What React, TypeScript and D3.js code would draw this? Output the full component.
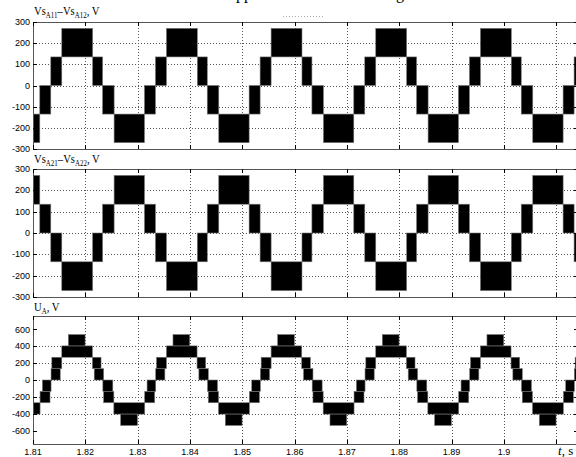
import { useEffect, useRef } from "react";
import * as d3 from "d3";

const W = 576;
const H = 457;

// time axis, s
const timeTicks = [1.81, 1.82, 1.83, 1.84, 1.85, 1.86, 1.87, 1.88, 1.89, 1.9, 1.91];
const timeLabels = ["1.81", "1.82", "1.83", "1.84", "1.85", "1.86", "1.87", "1.88", "1.89", "1.9"];

// start of each positive plateau, s
const cycleStarts = [1.7955, 1.8155, 1.8355, 1.8555, 1.8755, 1.8955, 1.9155];

// black switching bands within one cycle: [from ms, to ms, low V, high V]
const cell1Blocks = [
  [-4.2, -2.1, -135, 0],
  [-2.1, 0, 0, 135],
  [0, 5.9, 135, 270],
  [5.9, 7.8, 0, 135],
  [7.8, 10, -135, 0],
  [10, 15.8, -270, -135],
];

const cell2Blocks = [
  [-4.2, -2.1, 0, 135],
  [-2.1, 0, -135, 0],
  [0, 5.9, -270, -135],
  [5.9, 7.8, -135, 0],
  [7.8, 10, 0, 135],
  [10, 15.8, 135, 270],
];

const uaBlocks = [
  [-4.15, -2.25, -270, -135],
  [-3.7, -2.05, -135, 0],
  [-2.05, -0.3, 0, 135],
  [-1.9, 0, 135, 270],
  [0, 5.85, 270, 405],
  [1.25, 4.45, 405, 540],
  [5.85, 7.5, 135, 270],
  [6.2, 8.0, 0, 135],
  [7.85, 9.75, -135, 0],
  [8.0, 9.95, -270, -135],
  [9.95, 15.85, -405, -270],
  [11.25, 14.45, -540, -405],
];

const cellTicks = [-300, -200, -100, 0, 100, 200, 300];
const uaTicks = [-600, -400, -200, 0, 200, 400, 600];

const panels = [
  { top: 22, bottom: 149, domain: [-300, 300], ticks: cellTicks, blocks: cell1Blocks, title: ["Vs", "A11", "\u2013Vs", "A12", ", V"], titleY: 15 },
  { top: 169, bottom: 297, domain: [-300, 300], ticks: cellTicks, blocks: cell2Blocks, title: ["Vs", "A21", "\u2013Vs", "A22", ", V"], titleY: 163 },
  { top: 316, bottom: 444, domain: [-760, 760], ticks: uaTicks, blocks: uaBlocks, title: ["U", "A", ", V"], titleY: 311 },
];

const App = () => {
  const ref = useRef<SVGSVGElement>(null);

  useEffect(() => {
    const svg = d3.select(ref.current);
    svg.selectAll("*").remove();

    const left = 33;
    const right = 578;
    const x = d3.scaleLinear().domain([1.81, 1.91]).range([33, 556.3]);
    const px = (v: number) => Math.round(v) + 0.5;

    // cut-off caption above the figure
    svg.append("text").attr("x", 236).attr("y", -1).attr("font-family", "'Liberation Serif', serif")
      .attr("font-size", 16).text("pp");
    svg.append("text").attr("x", 396).attr("y", -1).attr("font-family", "'Liberation Serif', serif")
      .attr("font-size", 16).text("g");
    svg.append("line").attr("x1", 283).attr("x2", 323).attr("y1", 16.5).attr("y2", 16.5)
      .attr("stroke", "#aaa").attr("stroke-dasharray", "1,2");

    panels.forEach((p, i) => {
      const y = d3.scaleLinear().domain(p.domain).range([p.bottom, p.top]);
      const g = svg.append("g");

      const clipId = `clip-${i}`;
      svg.append("clipPath").attr("id", clipId)
        .append("rect").attr("x", left).attr("y", p.top)
        .attr("width", right - left).attr("height", p.bottom - p.top);

      // dotted grid
      const grid = g.append("g").attr("stroke", "#555").attr("stroke-width", 1).attr("stroke-dasharray", "1,2");
      grid.selectAll(".gx").data(timeTicks.slice(1)).join("line")
        .attr("x1", (d) => px(x(d))).attr("x2", (d) => px(x(d)))
        .attr("y1", p.top).attr("y2", p.bottom);
      grid.selectAll(".gy").data(p.ticks.slice(1, -1)).join("line")
        .attr("x1", left).attr("x2", right)
        .attr("y1", (d) => px(y(d))).attr("y2", (d) => px(y(d)));

      // switching bands
      const rects: { x0: number; x1: number; lo: number; hi: number }[] = [];
      cycleStarts.forEach((c) => {
        p.blocks.forEach((b) => {
          rects.push({ x0: c + b[0] / 1000, x1: c + b[1] / 1000, lo: b[2], hi: b[3] });
        });
      });
      g.append("g").attr("clip-path", `url(#${clipId})`)
        .selectAll("rect").data(rects).join("rect")
        .attr("x", (d) => x(d.x0))
        .attr("width", (d) => x(d.x1) - x(d.x0))
        .attr("y", (d) => y(d.hi))
        .attr("height", (d) => y(d.lo) - y(d.hi))
        .attr("fill", "#000")
        .attr("stroke", "#777")
        .attr("stroke-width", 0.6);

      // box
      g.append("rect").attr("x", px(left)).attr("y", px(p.top))
        .attr("width", right - left).attr("height", Math.round(p.bottom - p.top))
        .attr("fill", "none").attr("stroke", "#555").attr("stroke-width", 1);

      // inner ticks
      const tk = g.append("g").attr("stroke", "#000").attr("stroke-width", 1);
      timeTicks.forEach((t) => {
        const xx = px(x(t));
        tk.append("line").attr("x1", xx).attr("x2", xx).attr("y1", p.top).attr("y2", p.top + 4);
        tk.append("line").attr("x1", xx).attr("x2", xx).attr("y1", p.bottom).attr("y2", p.bottom - 4);
      });
      p.ticks.forEach((v) => {
        const yy = px(y(v));
        tk.append("line").attr("x1", left).attr("x2", left + 4).attr("y1", yy).attr("y2", yy);
        tk.append("line").attr("x1", right).attr("x2", right - 4).attr("y1", yy).attr("y2", yy);
      });

      // y tick labels
      g.append("g").selectAll("text").data(p.ticks).join("text")
        .attr("x", 30).attr("y", (d) => y(d)).attr("dy", "0.35em")
        .attr("text-anchor", "end")
        .attr("font-family", "'Liberation Sans', Arial, sans-serif")
        .attr("font-size", 9)
        .attr("fill", "#000")
        .text((d) => String(d));

      // panel title with subscripts (narrow, like the original)
      const tt = g.append("text")
        .attr("transform", `translate(34,${p.titleY}) scale(0.82,1)`)
        .attr("font-family", "'Liberation Serif', 'Times New Roman', serif")
        .attr("font-size", 13).attr("fill", "#000");
      p.title.forEach((s, k) => {
        const sub = k % 2 === 1;
        tt.append("tspan").attr("font-size", sub ? 8.5 : 13)
          .attr("dy", sub ? 3 : k === 0 ? 0 : -3).text(s);
      });
    });

    // bottom time labels
    const last = panels[panels.length - 1];
    svg.append("g").selectAll("text").data(timeLabels).join("text")
      .attr("x", (d) => x(+d)).attr("y", last.bottom + 11)
      .attr("text-anchor", "middle")
      .attr("font-family", "'Liberation Sans', Arial, sans-serif")
      .attr("font-size", 9).attr("fill", "#000")
      .text((d) => d);

    const ax = svg.append("text").attr("x", 558).attr("y", last.bottom + 11)
      .attr("font-family", "'Liberation Serif', 'Times New Roman', serif")
      .attr("font-size", 13).attr("fill", "#000");
    ax.append("tspan").attr("font-style", "italic").text("t");
    ax.append("tspan").text(", s");
  }, []);

  return (
    <svg
      ref={ref}
      width={W}
      height={H}
      style={{ position: "absolute", left: 0, top: 0, background: "#fff" }}
    />
  );
};

export default App;
